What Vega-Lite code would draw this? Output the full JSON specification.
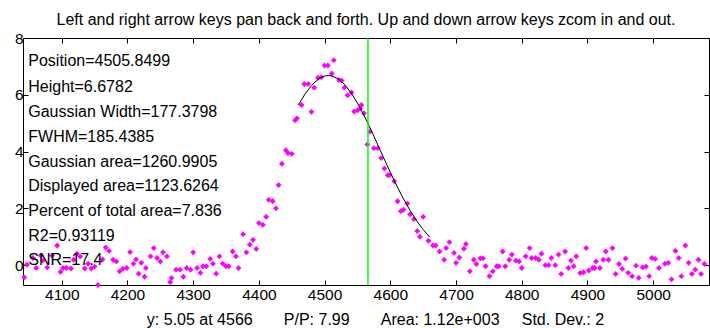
{
  "$schema": "https://vega.github.io/schema/vega-lite/v6.json",
  "width": 686,
  "height": 247,
  "autosize": {"type": "none"},
  "padding": {"left": 23, "top": 38, "right": 1, "bottom": 43},
  "background": "white",
  "title": {
    "text": "Left and right arrow keys pan back and forth. Up and down arrow keys zcom in and out.",
    "font": "Liberation Sans",
    "fontSize": 16,
    "fontWeight": "normal",
    "color": "#000000",
    "anchor": "middle",
    "baseline": "alphabetic",
    "offset": 12,
    "dy": 22
  },
  "config": {
    "view": {"stroke": null},
    "font": "Liberation Sans",
    "axis": {
      "grid": false,
      "domainColor": "#000000",
      "domainWidth": 1,
      "tickColor": "#000000",
      "tickSize": -5,
      "tickWidth": 1,
      "labelColor": "#000000",
      "labelFont": "Liberation Sans",
      "labelFontSize": 15.5,
      "titleFont": "Liberation Sans",
      "titleFontSize": 16,
      "titleFontWeight": "normal",
      "titleColor": "#000000"
    }
  },
  "datasets": {
    "pts": [
      {"x": 4043, "y": -0.43}, {"x": 4047, "y": 0.02}, {"x": 4056, "y": 0.25}, {"x": 4061, "y": -0.1},
      {"x": 4068, "y": 0.34}, {"x": 4071, "y": 0.16}, {"x": 4078, "y": -0.08}, {"x": 4085, "y": 0.34},
      {"x": 4093, "y": 0.69}, {"x": 4098, "y": -0.24}, {"x": 4102, "y": -0.1}, {"x": 4107, "y": -0.1},
      {"x": 4114, "y": -0.12}, {"x": 4118, "y": 0.19}, {"x": 4123, "y": 0.4}, {"x": 4128, "y": 0.3},
      {"x": 4135, "y": -0.12}, {"x": 4140, "y": 0.05}, {"x": 4145, "y": -0.12}, {"x": 4150, "y": -0.05},
      {"x": 4155, "y": -0.7}, {"x": 4162, "y": 0.2}, {"x": 4167, "y": 0.62}, {"x": 4172, "y": 0.5},
      {"x": 4178, "y": 0.19}, {"x": 4183, "y": 0.13}, {"x": 4188, "y": -0.22}, {"x": 4193, "y": -0.13},
      {"x": 4199, "y": -0.1}, {"x": 4204, "y": 0.46}, {"x": 4209, "y": 0.05}, {"x": 4213, "y": 0.2},
      {"x": 4217, "y": -0.3}, {"x": 4221, "y": 0.08}, {"x": 4226, "y": -0.41}, {"x": 4228, "y": -0.1},
      {"x": 4235, "y": 0.31}, {"x": 4240, "y": 0.6}, {"x": 4245, "y": 0.25}, {"x": 4250, "y": 0.13},
      {"x": 4254, "y": 0.45}, {"x": 4260, "y": 0.31}, {"x": 4265, "y": -0.6}, {"x": 4267, "y": -0.45},
      {"x": 4274, "y": -0.16}, {"x": 4280, "y": -0.16}, {"x": 4285, "y": -0.41}, {"x": 4290, "y": -0.1},
      {"x": 4296, "y": -0.16}, {"x": 4300, "y": 0.45}, {"x": 4306, "y": -0.1}, {"x": 4311, "y": -0.27},
      {"x": 4315, "y": -0.04}, {"x": 4320, "y": -0.04}, {"x": 4326, "y": 0.22}, {"x": 4330, "y": 0.05},
      {"x": 4335, "y": -0.3}, {"x": 4340, "y": 0.31}, {"x": 4345, "y": 0.05}, {"x": 4350, "y": -0.04},
      {"x": 4354, "y": -0.04}, {"x": 4360, "y": 0.48}, {"x": 4365, "y": 0.31}, {"x": 4369, "y": -0.1},
      {"x": 4376, "y": 1.09}, {"x": 4381, "y": 0.45}, {"x": 4386, "y": 0.72}, {"x": 4391, "y": 0.89},
      {"x": 4396, "y": 0.57}, {"x": 4400, "y": 1.48}, {"x": 4406, "y": 1.42}, {"x": 4411, "y": 1.7},
      {"x": 4415, "y": 2.3}, {"x": 4421, "y": 2.25}, {"x": 4426, "y": 2.0}, {"x": 4430, "y": 2.82},
      {"x": 4435, "y": 3.57}, {"x": 4441, "y": 4.05}, {"x": 4444, "y": 3.95}, {"x": 4450, "y": 3.92},
      {"x": 4455, "y": 5.1}, {"x": 4458, "y": 5.17}, {"x": 4465, "y": 5.64}, {"x": 4469, "y": 6.38},
      {"x": 4475, "y": 6.38}, {"x": 4480, "y": 5.4}, {"x": 4484, "y": 6.25}, {"x": 4490, "y": 6.6},
      {"x": 4495, "y": 6.62}, {"x": 4500, "y": 7.03}, {"x": 4505, "y": 7.03}, {"x": 4511, "y": 6.75},
      {"x": 4514, "y": 7.22}, {"x": 4522, "y": 6.52}, {"x": 4526, "y": 6.5}, {"x": 4530, "y": 6.25},
      {"x": 4535, "y": 5.98}, {"x": 4541, "y": 6.08}, {"x": 4545, "y": 5.41}, {"x": 4550, "y": 5.45},
      {"x": 4554, "y": 5.52}, {"x": 4556, "y": 5.64}, {"x": 4560, "y": 5.35}, {"x": 4565, "y": 4.25},
      {"x": 4569, "y": 4.7}, {"x": 4575, "y": 4.12}, {"x": 4581, "y": 4.12}, {"x": 4586, "y": 3.77},
      {"x": 4591, "y": 3.4}, {"x": 4596, "y": 3.17}, {"x": 4599, "y": 3.17}, {"x": 4606, "y": 2.95},
      {"x": 4611, "y": 2.25}, {"x": 4616, "y": 1.9}, {"x": 4620, "y": 1.95}, {"x": 4626, "y": 2.17},
      {"x": 4630, "y": 1.79}, {"x": 4636, "y": 1.62}, {"x": 4641, "y": 1.2}, {"x": 4645, "y": 1.0},
      {"x": 4650, "y": 1.7}, {"x": 4658, "y": 0.86}, {"x": 4665, "y": 0.69}, {"x": 4669, "y": 0.69},
      {"x": 4675, "y": 0.48}, {"x": 4682, "y": 0.19}, {"x": 4685, "y": 0.6}, {"x": 4690, "y": 0.81},
      {"x": 4697, "y": 0.43}, {"x": 4700, "y": 0.08}, {"x": 4705, "y": 0.27}, {"x": 4712, "y": 0.58},
      {"x": 4715, "y": 0.74}, {"x": 4721, "y": -0.22}, {"x": 4727, "y": 0.19}, {"x": 4731, "y": 0.04},
      {"x": 4737, "y": 0.24}, {"x": 4741, "y": 0.24}, {"x": 4745, "y": -0.04}, {"x": 4751, "y": -0.39},
      {"x": 4756, "y": -0.22}, {"x": 4762, "y": -0.04}, {"x": 4765, "y": -0.04}, {"x": 4771, "y": 0.48},
      {"x": 4775, "y": -0.04}, {"x": 4781, "y": 0.19}, {"x": 4785, "y": 0.37}, {"x": 4791, "y": 0.16},
      {"x": 4796, "y": 0.13}, {"x": 4800, "y": -0.1}, {"x": 4806, "y": 0.31}, {"x": 4812, "y": 0.6},
      {"x": 4815, "y": 0.25}, {"x": 4821, "y": 0.25}, {"x": 4826, "y": 0.19}, {"x": 4830, "y": 0.4},
      {"x": 4836, "y": 0.0}, {"x": 4841, "y": 0.0}, {"x": 4845, "y": 0.25}, {"x": 4851, "y": 0.0},
      {"x": 4856, "y": 0.37}, {"x": 4860, "y": -0.31}, {"x": 4866, "y": 0.48}, {"x": 4871, "y": -0.1},
      {"x": 4875, "y": 0.16}, {"x": 4879, "y": -0.04}, {"x": 4883, "y": 0.31}, {"x": 4889, "y": -0.28},
      {"x": 4894, "y": -0.25}, {"x": 4898, "y": 0.6}, {"x": 4902, "y": -0.19}, {"x": 4908, "y": -0.1},
      {"x": 4911, "y": -0.1}, {"x": 4913, "y": 0.13}, {"x": 4919, "y": -0.1}, {"x": 4924, "y": 0.19},
      {"x": 4928, "y": 0.48}, {"x": 4932, "y": 0.19}, {"x": 4938, "y": 0.6}, {"x": 4943, "y": -0.31},
      {"x": 4948, "y": 0.04}, {"x": 4953, "y": -0.13}, {"x": 4958, "y": 0.23}, {"x": 4962, "y": -0.27},
      {"x": 4968, "y": -0.39}, {"x": 4974, "y": -0.02}, {"x": 4978, "y": -0.45}, {"x": 4984, "y": -0.08},
      {"x": 4989, "y": -0.05}, {"x": 4994, "y": -0.39}, {"x": 4998, "y": 0.25}, {"x": 5003, "y": 0.22},
      {"x": 5009, "y": -0.1}, {"x": 5018, "y": 0.05}, {"x": 5023, "y": 0.08}, {"x": 5028, "y": -0.5},
      {"x": 5034, "y": 0.5}, {"x": 5039, "y": 0.25}, {"x": 5043, "y": -0.39}, {"x": 5049, "y": 0.69},
      {"x": 5054, "y": 0.08}, {"x": 5059, "y": -0.31}, {"x": 5064, "y": -0.16}, {"x": 5069, "y": 0.19},
      {"x": 5073, "y": -0.31}, {"x": 5078, "y": 0.04}
    ],
    "fit": [
      {"x": 4460, "y": 5.637}, {"x": 4470, "y": 6.021}, {"x": 4480, "y": 6.328}, {"x": 4490, "y": 6.545},
      {"x": 4500, "y": 6.66}, {"x": 4505.85, "y": 6.678}, {"x": 4510, "y": 6.669}, {"x": 4520, "y": 6.571},
      {"x": 4530, "y": 6.372}, {"x": 4540, "y": 6.079}, {"x": 4550, "y": 5.707}, {"x": 4560, "y": 5.272},
      {"x": 4570, "y": 4.793}, {"x": 4580, "y": 4.287}, {"x": 4590, "y": 3.773}, {"x": 4600, "y": 3.268},
      {"x": 4610, "y": 2.785}, {"x": 4620, "y": 2.335}, {"x": 4630, "y": 1.927}, {"x": 4640, "y": 1.565},
      {"x": 4650, "y": 1.251}, {"x": 4660, "y": 0.983}
    ],
    "stats": [
      {"label": "Position=4505.8499", "y": 7.18},
      {"label": "Height=6.6782", "y": 6.28},
      {"label": "Gaussian Width=177.3798", "y": 5.385},
      {"label": "FWHM=185.4385", "y": 4.52},
      {"label": "Gaussian area=1260.9905", "y": 3.62},
      {"label": "Displayed area=1123.6264", "y": 2.8},
      {"label": "Percent of total area=7.836", "y": 1.9},
      {"label": "R2=0.93119", "y": 1.04},
      {"label": "SNR=17.4", "y": 0.19}
    ]
  },
  "layer": [
    {
      "data": {"name": "pts"},
      "mark": {"type": "point", "shape": "diamond", "filled": true, "color": "#FF00FF", "size": 34, "opacity": 1},
      "encoding": {
        "x": {
          "field": "x", "type": "quantitative",
          "scale": {"domain": [4041, 5085], "nice": false, "zero": false},
          "axis": {
            "orient": "bottom",
            "values": [4100, 4200, 4300, 4400, 4500, 4600, 4700, 4800, 4900, 5000],
            "format": "d",
            "labelPadding": 7,
            "title": "y: 5.05 at 4566\u00a0\u00a0\u00a0\u00a0\u00a0\u00a0\u00a0P/P: 7.99\u00a0\u00a0\u00a0\u00a0\u00a0\u00a0\u00a0Area: 1.12e+003\u00a0\u00a0\u00a0\u00a0\u00a0Std. Dev.: 2",
            "titleX": 352,
            "titleAlign": "center",
            "titlePadding": 9
          }
        },
        "y": {
          "field": "y", "type": "quantitative",
          "scale": {"domain": [-0.7, 8], "nice": false, "zero": false},
          "axis": {"orient": "left", "values": [0, 2, 4, 6, 8], "labelPadding": 5, "title": null}
        }
      }
    },
    {
      "data": {"name": "fit"},
      "mark": {"type": "line", "color": "#000000", "strokeWidth": 1},
      "encoding": {
        "x": {"field": "x", "type": "quantitative",
          "axis": {"orient": "top", "values": [4100, 4200, 4300, 4400, 4500, 4600, 4700, 4800, 4900, 5000], "labels": false, "title": null}},
        "y": {"field": "y", "type": "quantitative",
          "axis": {"orient": "right", "values": [0, 2, 4, 6, 8], "labels": false, "title": null}}
      }
    },
    {
      "data": {"values": [{"pos": 4566}]},
      "mark": {"type": "rule", "color": "#00FF00", "strokeWidth": 1.5},
      "encoding": {
        "x": {"field": "pos", "type": "quantitative", "axis": null}
      }
    },
    {
      "data": {"name": "stats"},
      "mark": {"type": "text", "align": "left", "baseline": "middle", "fontSize": 16, "font": "Liberation Sans", "color": "#000000"},
      "encoding": {
        "x": {"datum": 4049, "type": "quantitative", "axis": null},
        "y": {"field": "y", "type": "quantitative", "axis": null},
        "text": {"field": "label"}
      }
    }
  ],
  "resolve": {"axis": {"x": "independent", "y": "independent"}}
}
